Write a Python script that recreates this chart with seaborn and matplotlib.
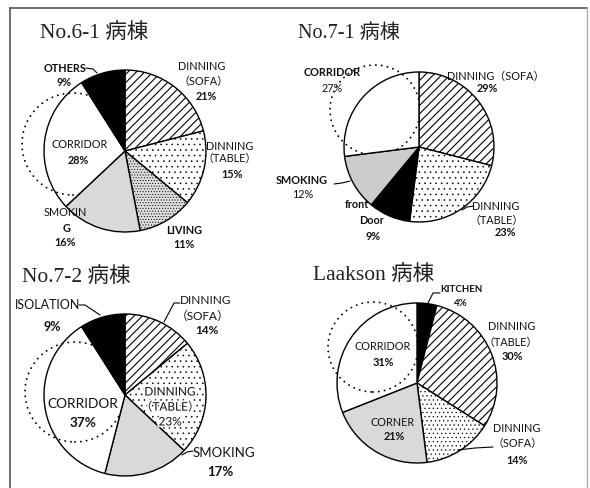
import matplotlib
matplotlib.use("Agg")
import matplotlib.pyplot as plt
import matplotlib.patheffects as pe
from matplotlib.patches import Circle
import seaborn as sns

sns.set_theme(style="white")
plt.rcParams["font.family"] = ["Lato", "Noto Sans CJK JP", "DejaVu Sans"]
plt.rcParams["hatch.linewidth"] = 0.8
plt.rcParams["hatch.color"] = "black"

# ---- data: share of time spent per place, by ward (%) ----
ward_titles = ["No.6-1 病棟", "No.7-1 病棟", "No.7-2 病棟", "Laakson 病棟"]

w61_places = ["DINNING（SOFA）", "DINNING（TABLE）", "LIVING", "SMOKING", "CORRIDOR", "OTHERS"]
w61_share = [21, 15, 11, 16, 28, 9]

w71_places = ["DINNING（SOFA）", "DINNING（TABLE）", "front Door", "SMOKING", "CORRIDOR"]
w71_share = [29, 23, 9, 12, 27]

w72_places = ["DINNING（SOFA）", "DINNING（TABLE）", "SMOKING", "CORRIDOR", "ISOLATION"]
w72_share = [14, 23, 17, 37, 9]

laakson_places = ["KITCHEN", "DINNING（TABLE）", "DINNING（SOFA）", "CORNER", "CORRIDOR"]
laakson_share = [4, 30, 14, 21, 31]

W, H = 590, 488
fig = plt.figure(figsize=(W / 100, H / 100), dpi=100)
ax = fig.add_axes([0, 0, 1, 1])

TITLE_FONT = ["Liberation Serif", "Noto Sans CJK JP"]


def Y(y):
    """Top-down pixel row -> axes y."""
    return H - y


def put(x, y, s, size=7.8, bold=False, halo=False):
    kw = {}
    if halo:
        kw["path_effects"] = [pe.withStroke(linewidth=2.5, foreground="white")]
    ax.text(x, Y(y), s, ha="center", va="center", fontsize=size,
            fontweight="bold" if bold else "normal", color="#111111", zorder=6, **kw)


def leader(pts):
    xs = [p[0] for p in pts]
    ys = [Y(p[1]) for p in pts]
    ax.plot(xs, ys, color="black", lw=0.8, zorder=5, solid_capstyle="round")


def draw_pie(values, cx, cy, r, styles, corridor_idx, ring):
    wedges, _ = ax.pie(values, center=(cx, Y(cy)), radius=r, startangle=90,
                       counterclock=False,
                       wedgeprops=dict(edgecolor="black", linewidth=1.0))
    for w, (fc, hatch) in zip(wedges, styles):
        w.set_facecolor(fc)
        w.set_hatch(hatch)
        w.set_zorder(2)
        if "." in hatch and hasattr(w, "set_hatch_linewidth"):
            w.set_hatch_linewidth(0.4)
    rx, ry, rr = ring
    dotted = dict(fill=False, edgecolor="black", linewidth=1.4,
                  linestyle=(0, (0.01, 3.0)), capstyle="round")
    under = Circle((rx, Y(ry)), rr, zorder=1, **dotted)
    ax.add_patch(under)
    over = Circle((rx, Y(ry)), rr, zorder=3, **dotted)
    ax.add_patch(over)
    over.set_clip_path(wedges[corridor_idx])
    return wedges


def title(x, y, s, size=15.5):
    ax.text(x, Y(y), s, ha="left", va="center", fontsize=size,
            family=TITLE_FONT, color="#222222")


GREY = "#d9d9d9"

# ---- No.6-1 ----
draw_pie(w61_share, 125, 151, 81,
         [("white", "////"), ("white", "..."), ("#dedede", "......"),
          (GREY, ""), ("white", ""), ("black", "")],
         4, (73, 144, 51))
title(40, 33, ward_titles[0])
put(202, 67, "DINNING"); put(204, 81, "（SOFA）"); put(206, 97, f"{w61_share[0]}%", bold=True)
put(230, 146, "DINNING"); put(230, 158, "（TABLE）"); put(232, 174, f"{w61_share[1]}%", bold=True)
put(184, 230, w61_places[2], bold=True); put(184, 245, f"{w61_share[2]}%", bold=True)
put(65, 212, "SMOKIN"); put(67, 228, "G", bold=True); put(65, 243, f"{w61_share[3]}%", bold=True)
put(80, 145, w61_places[4]); put(78, 160, f"{w61_share[4]}%", bold=True)
put(65, 68, w61_places[5], bold=True); put(64, 82, f"{w61_share[5]}%", bold=True)
leader([(86, 68), (93, 69), (97, 73)])

# ---- No.7-1 ----
draw_pie(w71_share, 419, 147, 75,
         [("white", "////"), ("white", "..."), ("black", ""),
          ("#cccccc", ""), ("white", "")],
         4, (375, 110, 45))
title(298, 33, ward_titles[1], size=14.5)
put(496, 76, w71_places[0]); put(487, 89, f"{w71_share[0]}%", bold=True)
put(496, 206, "DINNING"); put(497, 220, "（TABLE）"); put(505, 233, f"{w71_share[1]}%", bold=True)
leader([(462, 210), (467, 207), (474, 206)])
put(357, 204, "front", bold=True); put(372, 220, "Door", bold=True)
put(373, 237, f"{w71_share[2]}%", bold=True)
put(302, 180, w71_places[3], bold=True); put(303, 195, f"{w71_share[3]}%")
leader([(334, 184), (342, 183), (350, 181)])
put(332, 72, w71_places[4], bold=True); put(332, 88, f"{w71_share[4]}%")

# ---- No.7-2 ----
draw_pie(w72_share, 125, 395, 81,
         [("white", "////"), ("white", "..."), (GREY, ""),
          ("white", ""), ("black", "")],
         3, (75, 392, 50))
title(22, 277, ward_titles[2])
put(206, 300, "DINNING", size=8.5); put(203, 316, "（SOFA）", size=8.5)
put(207, 331, f"{w72_share[0]}%", size=8.5, bold=True)
leader([(180, 303), (174, 303), (164, 322)])
put(170, 392, "DINNING", size=8.5, halo=True); put(170, 407, "（TABLE）", size=8.5, halo=True)
put(170, 422, f"{w72_share[1]}%", size=8.5, halo=True)
put(224, 453, w72_places[2], size=9.5); put(220, 472, f"{w72_share[2]}%", size=9.5, bold=True)
leader([(182, 455), (187, 452), (193, 451)])
put(83, 404, w72_places[3], size=9.8); put(83, 423, f"{w72_share[3]}%", size=9.8, bold=True)
put(48, 305, w72_places[4], size=9); put(52, 327, f"{w72_share[4]}%", size=9, bold=True)
leader([(79, 305), (85, 305), (100, 315)])

# ---- Laakson ----
draw_pie(laakson_share, 417, 383, 80,
         [("black", ""), ("white", "////"), ("white", "...."),
          (GREY, ""), ("white", "")],
         4, (373, 347, 45))
title(313, 275, ward_titles[3])
put(461, 289, laakson_places[0], size=7, bold=True)
put(461, 303, f"{laakson_share[0]}%", size=7, bold=True)
leader([(440, 293), (433, 293), (428, 303)])
put(512, 327, "DINNING"); put(511, 342, "（TABLE）"); put(512, 356, f"{laakson_share[1]}%", bold=True)
put(517, 428, "DINNING"); put(517, 443, "（SOFA）"); put(517, 461, f"{laakson_share[2]}%", bold=True)
leader([(458, 450), (475, 448), (493, 447)])
put(393, 423, laakson_places[3]); put(394, 437, f"{laakson_share[3]}%", bold=True)
put(383, 347, laakson_places[4]); put(383, 362, f"{laakson_share[4]}%", bold=True)

# outer frame
ax.plot([10, 10], [Y(488), Y(8)], color="#555555", lw=1.2, zorder=7)
ax.plot([10, 587], [Y(8), Y(8)], color="#555555", lw=1.2, zorder=7)
ax.plot([587, 587], [Y(8), Y(488)], color="#b0b0b0", lw=1.0, zorder=7)

ax.set_xlim(0, W)
ax.set_ylim(0, H)
ax.set_aspect("equal")
ax.axis("off")

fig.savefig("out.png", dpi=100, facecolor="white")
